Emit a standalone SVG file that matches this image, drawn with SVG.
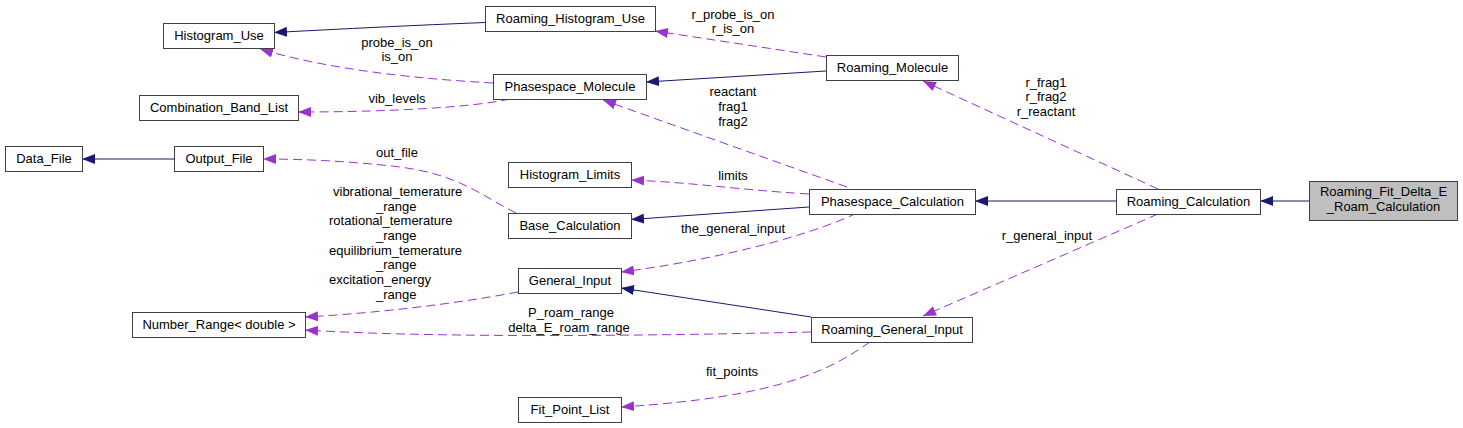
<svg xmlns="http://www.w3.org/2000/svg" width="1463" height="428" viewBox="0 0 1463 428">
<style>
.node rect{fill:#ffffff;stroke:#404040;stroke-width:1}
.node.target rect{fill:#bfbfbf}
text{font-family:"Liberation Sans",Arial,sans-serif;font-size:13px;fill:#000000}
.node text{text-anchor:middle}
.lbl{text-anchor:middle}
.lbls{text-anchor:start}
.inh{fill:none;stroke:#191970;stroke-width:1}
.use{fill:none;stroke:#9a32cd;stroke-width:1;stroke-dasharray:9,5}
</style>
<defs>
<marker id="an" viewBox="0 0 13 10" refX="13" refY="5" markerWidth="13" markerHeight="10" markerUnits="userSpaceOnUse" orient="auto">
<path d="M0,0 L13,5 L0,10 z" fill="#191970" stroke="none"/>
</marker>
<marker id="ap" viewBox="0 0 13 10" refX="13" refY="5" markerWidth="13" markerHeight="10" markerUnits="userSpaceOnUse" orient="auto">
<path d="M0,0 L13,5 L0,10 z" fill="#9a32cd" stroke="none"/>
</marker>
</defs>
<rect width="1463" height="428" fill="#ffffff"/>
<g id="connectors">
<path class="inh" d="M485,22.5 C420,25 340,29 274,32.5" marker-end="url(#an)"/>
<path class="inh" d="M174,159 L82,159" marker-end="url(#an)"/>
<path class="inh" d="M826,71 L646,82" marker-end="url(#an)"/>
<path class="inh" d="M809,207 L631,219.5" marker-end="url(#an)"/>
<path class="inh" d="M1116,201 L975,201" marker-end="url(#an)"/>
<path class="inh" d="M1309,201 L1260,201" marker-end="url(#an)"/>
<path class="inh" d="M811,317 L621,288" marker-end="url(#an)"/>
<path class="use" d="M493,83 C420,79 330,70 260,49" marker-end="url(#ap)"/>
<path class="use" d="M510,99 C470,108 380,112 298,112" marker-end="url(#ap)"/>
<path class="use" d="M516,213 C480,195 460,175 400,167 C350,161 300,159 263,159" marker-end="url(#ap)"/>
<path class="use" d="M847,187 L603,100" marker-end="url(#ap)"/>
<path class="use" d="M809,194 C740,190 700,183 631,180" marker-end="url(#ap)"/>
<path class="use" d="M857,213 C800,240 700,262 621,272" marker-end="url(#ap)"/>
<path class="use" d="M518,292 C460,303 380,313 305,317" marker-end="url(#ap)"/>
<path class="use" d="M811,332 C600,337 420,337 305,330" marker-end="url(#ap)"/>
<path class="use" d="M870,342 C830,370 780,397 621,407" marker-end="url(#ap)"/>
<path class="use" d="M826,57 L655,31" marker-end="url(#ap)"/>
<path class="use" d="M1158,189 L923,81" marker-end="url(#ap)"/>
<path class="use" d="M1158,214 L923,316" marker-end="url(#ap)"/>
<text class="lbl" x="397" y="47">probe_is_on</text>
<text class="lbl" x="397" y="61">is_on</text>
<text class="lbl" x="397" y="103">vib_levels</text>
<text class="lbl" x="397" y="157">out_file</text>
<text class="lbls" x="333" y="196">vibrational_temerature</text>
<text class="lbls" x="376" y="211">_range</text>
<text class="lbls" x="329" y="225">rotational_temerature</text>
<text class="lbls" x="376" y="240">_range</text>
<text class="lbls" x="329" y="255">equilibrium_temerature</text>
<text class="lbls" x="376" y="269">_range</text>
<text class="lbls" x="329" y="284">excitation_energy</text>
<text class="lbls" x="376" y="299">_range</text>
<text class="lbl" x="571" y="317">P_roam_range</text>
<text class="lbl" x="569" y="332">delta_E_roam_range</text>
<text class="lbl" x="732" y="376">fit_points</text>
<text class="lbl" x="733" y="233">the_general_input</text>
<text class="lbl" x="733" y="180">limits</text>
<text class="lbl" x="733" y="96">reactant</text>
<text class="lbl" x="733" y="111">frag1</text>
<text class="lbl" x="733" y="126">frag2</text>
<text class="lbl" x="733" y="19">r_probe_is_on</text>
<text class="lbl" x="733" y="33">r_is_on</text>
<text class="lbl" x="1046" y="87">r_frag1</text>
<text class="lbl" x="1046" y="101">r_frag2</text>
<text class="lbl" x="1046" y="116">r_reactant</text>
<text class="lbl" x="1047" y="240">r_general_input</text>
</g>
<g id="node_Roaming_Fit_Delta_E_Roam_Calculation" class="node target"><rect x="1309.5" y="181.5" width="148" height="39"/><text x="1383.5" y="196">Roaming_Fit_Delta_E</text><text x="1383.5" y="211">_Roam_Calculation</text></g>
<g id="node_Roaming_Calculation" class="node"><rect x="1116.5" y="189.5" width="144" height="25"/><text x="1188.5" y="206">Roaming_Calculation</text></g>
<g id="node_Phasespace_Calculation" class="node"><rect x="809.5" y="189.5" width="166" height="25"/><text x="892.5" y="206">Phasespace_Calculation</text></g>
<g id="node_Roaming_Molecule" class="node"><rect x="826.5" y="55.5" width="132" height="25"/><text x="892.5" y="72">Roaming_Molecule</text></g>
<g id="node_Roaming_General_Input" class="node"><rect x="811.5" y="317.5" width="161" height="25"/><text x="892" y="334">Roaming_General_Input</text></g>
<g id="node_Roaming_Histogram_Use" class="node"><rect x="485.5" y="6.5" width="170" height="25"/><text x="570.5" y="23">Roaming_Histogram_Use</text></g>
<g id="node_Phasespace_Molecule" class="node"><rect x="493.5" y="74.5" width="153" height="25"/><text x="570" y="91">Phasespace_Molecule</text></g>
<g id="node_Histogram_Limits" class="node"><rect x="508.5" y="162.5" width="123" height="25"/><text x="570" y="179">Histogram_Limits</text></g>
<g id="node_Base_Calculation" class="node"><rect x="508.5" y="213.5" width="123" height="25"/><text x="570" y="230">Base_Calculation</text></g>
<g id="node_General_Input" class="node"><rect x="518.5" y="268.5" width="103" height="25"/><text x="570" y="285">General_Input</text></g>
<g id="node_Fit_Point_List" class="node"><rect x="518.5" y="397.5" width="103" height="25"/><text x="570" y="414">Fit_Point_List</text></g>
<g id="node_Histogram_Use" class="node"><rect x="163.5" y="23.5" width="111" height="25"/><text x="219" y="40">Histogram_Use</text></g>
<g id="node_Combination_Band_List" class="node"><rect x="139.5" y="95.5" width="159" height="25"/><text x="219" y="112">Combination_Band_List</text></g>
<g id="node_Output_File" class="node"><rect x="174.5" y="146.5" width="89" height="25"/><text x="219" y="163">Output_File</text></g>
<g id="node_Data_File" class="node"><rect x="5.5" y="146.5" width="77" height="25"/><text x="44" y="163">Data_File</text></g>
<g id="node_Number_Range_double" class="node"><rect x="132.5" y="312.5" width="173" height="25"/><text x="219" y="329">Number_Range&lt; double &gt;</text></g>
</svg>
